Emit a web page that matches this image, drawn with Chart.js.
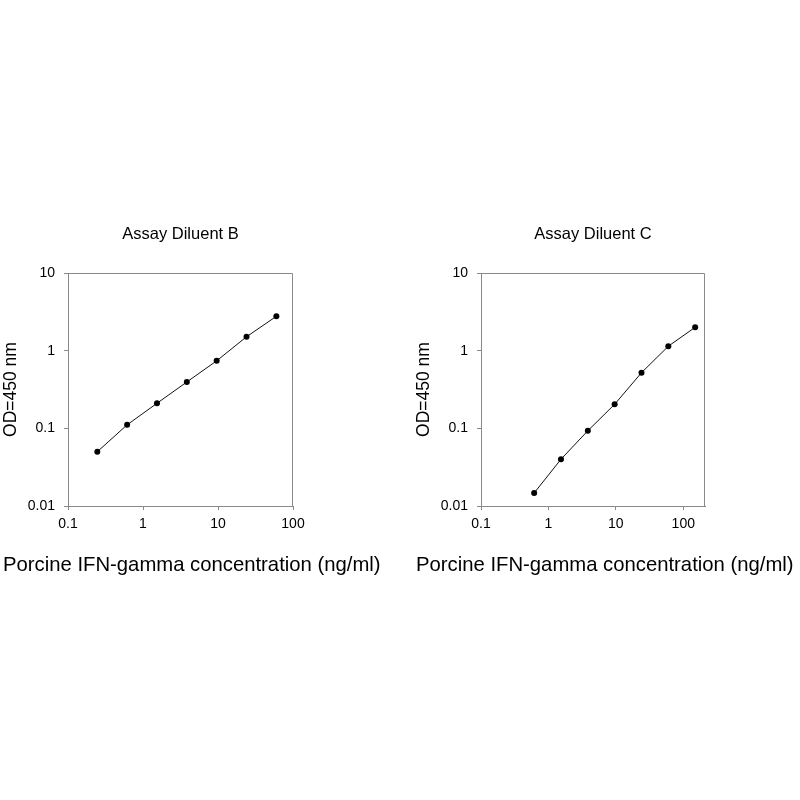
<!DOCTYPE html>
<html>
<head>
<meta charset="utf-8">
<title>Porcine IFN-gamma standard curves</title>
<script src="https://cdn.jsdelivr.net/npm/chart.js@4.4.1/dist/chart.umd.min.js"></script>
<style>
    body { margin: 0; background: #fff; }
    .plot { position: absolute; top: 200px; }
    #chartB { left: 0; }
    #chartC { left: 413px; }
</style>
</head>
<body>
<canvas id="chartB" class="plot" width="400" height="400"></canvas>
<canvas id="chartC" class="plot" width="387" height="400"></canvas>
<script>
// Standard curve data
const concB = [0.246, 0.614, 1.536, 3.84, 9.6, 24, 60];
const odB = [0.050, 0.111, 0.21, 0.395, 0.74, 1.51, 2.77];

const concC = [0.614, 1.536, 3.84, 9.6, 24, 60, 150];
const odC = [0.0147, 0.040, 0.093, 0.204, 0.52, 1.14, 2.0];

const xTicks = [0.1, 1, 10, 100];
const yTicks = [0.01, 0.1, 1, 10];

const xMinB = 0.1, xMaxB = 100;
const xMinC = 0.1, xMaxC = 210;
const yMin = 0.01, yMax = 10;

const X_TITLE = 'Porcine IFN-gamma concentration (ng/ml)';
const Y_TITLE = 'OD=450 nm';

const FONT = '"Liberation Sans", Arial, Helvetica, sans-serif';
const AXIS_GREY = '#8a8a8a';

// Top/right edges of the plot box, plus the chart title and the wide x-axis
// caption (the scale title would be squeezed to the plot width)
const boxAndCaptions = {
    id: 'boxAndCaptions',
    afterDraw(chart, args, opts) {
        const a = chart.chartArea;
        const ctx = chart.ctx;
        ctx.save();
        ctx.strokeStyle = AXIS_GREY;
        ctx.lineWidth = 1;
        ctx.beginPath();
        ctx.moveTo(a.left, a.top + 0.5);
        ctx.lineTo(a.right - 0.5, a.top + 0.5);
        ctx.lineTo(a.right - 0.5, a.bottom);
        ctx.stroke();

        ctx.fillStyle = '#000';
        ctx.textBaseline = 'middle';

        ctx.font = '16.5px ' + FONT;
        ctx.textAlign = 'center';
        ctx.fillText(opts.title, (a.left + a.right) / 2, a.top - 39);

        ctx.font = '20.3px ' + FONT;
        ctx.textAlign = 'left';
        ctx.fillText(opts.xTitle, a.left - 65, a.bottom + 59);
        ctx.restore();
    }
};

function makeChart(canvasId, titleText, conc, od, xMin, xMax, padRight) {
    const points = conc.map((c, i) => ({ x: c, y: od[i] }));
    return new Chart(document.getElementById(canvasId), {
        type: 'scatter',
        data: {
            datasets: [{
                data: points,
                showLine: true,
                borderColor: '#111',
                borderWidth: 1,
                backgroundColor: '#000',
                pointRadius: 3,
                pointBorderWidth: 0
            }]
        },
        options: {
            responsive: false,
            animation: false,
            layout: { padding: { top: 73, left: 0, right: padRight, bottom: 26 } },
            plugins: {
                legend: { display: false },
                tooltip: { enabled: false },
                boxAndCaptions: { title: titleText, xTitle: X_TITLE }
            },
            scales: {
                x: {
                    type: 'logarithmic',
                    min: xMin,
                    max: xMax,
                    afterFit: s => { s.height = 68; },
                    afterBuildTicks: s => { s.ticks = xTicks.map(v => ({ value: v })); },
                    grid: { drawOnChartArea: false, tickLength: 4, color: AXIS_GREY },
                    border: { color: AXIS_GREY, width: 1 },
                    ticks: {
                        color: '#000',
                        padding: 6,
                        maxRotation: 0,
                        autoSkip: false,
                        font: { family: FONT, size: 14 },
                        callback: v => String(v)
                    }
                },
                y: {
                    type: 'logarithmic',
                    min: yMin,
                    max: yMax,
                    afterFit: s => { s.width = 68; },
                    afterBuildTicks: s => { s.ticks = yTicks.map(v => ({ value: v })); },
                    grid: { drawOnChartArea: false, tickLength: 4, color: AXIS_GREY },
                    border: { color: AXIS_GREY, width: 1 },
                    ticks: {
                        color: '#000',
                        padding: 9,
                        autoSkip: false,
                        font: { family: FONT, size: 14 },
                        callback: v => String(v)
                    },
                    title: {
                        display: true,
                        text: Y_TITLE,
                        color: '#000',
                        font: { family: FONT, size: 17.5 },
                        padding: { top: 0.5, bottom: 0 }
                    }
                }
            }
        },
        plugins: [boxAndCaptions]
    });
}

document.addEventListener('DOMContentLoaded', function() {
    makeChart('chartB', 'Assay Diluent B', concB, odB, xMinB, xMaxB, 107);
    makeChart('chartC', 'Assay Diluent C', concC, odC, xMinC, xMaxC, 95);
});
</script>
</body>
</html>
